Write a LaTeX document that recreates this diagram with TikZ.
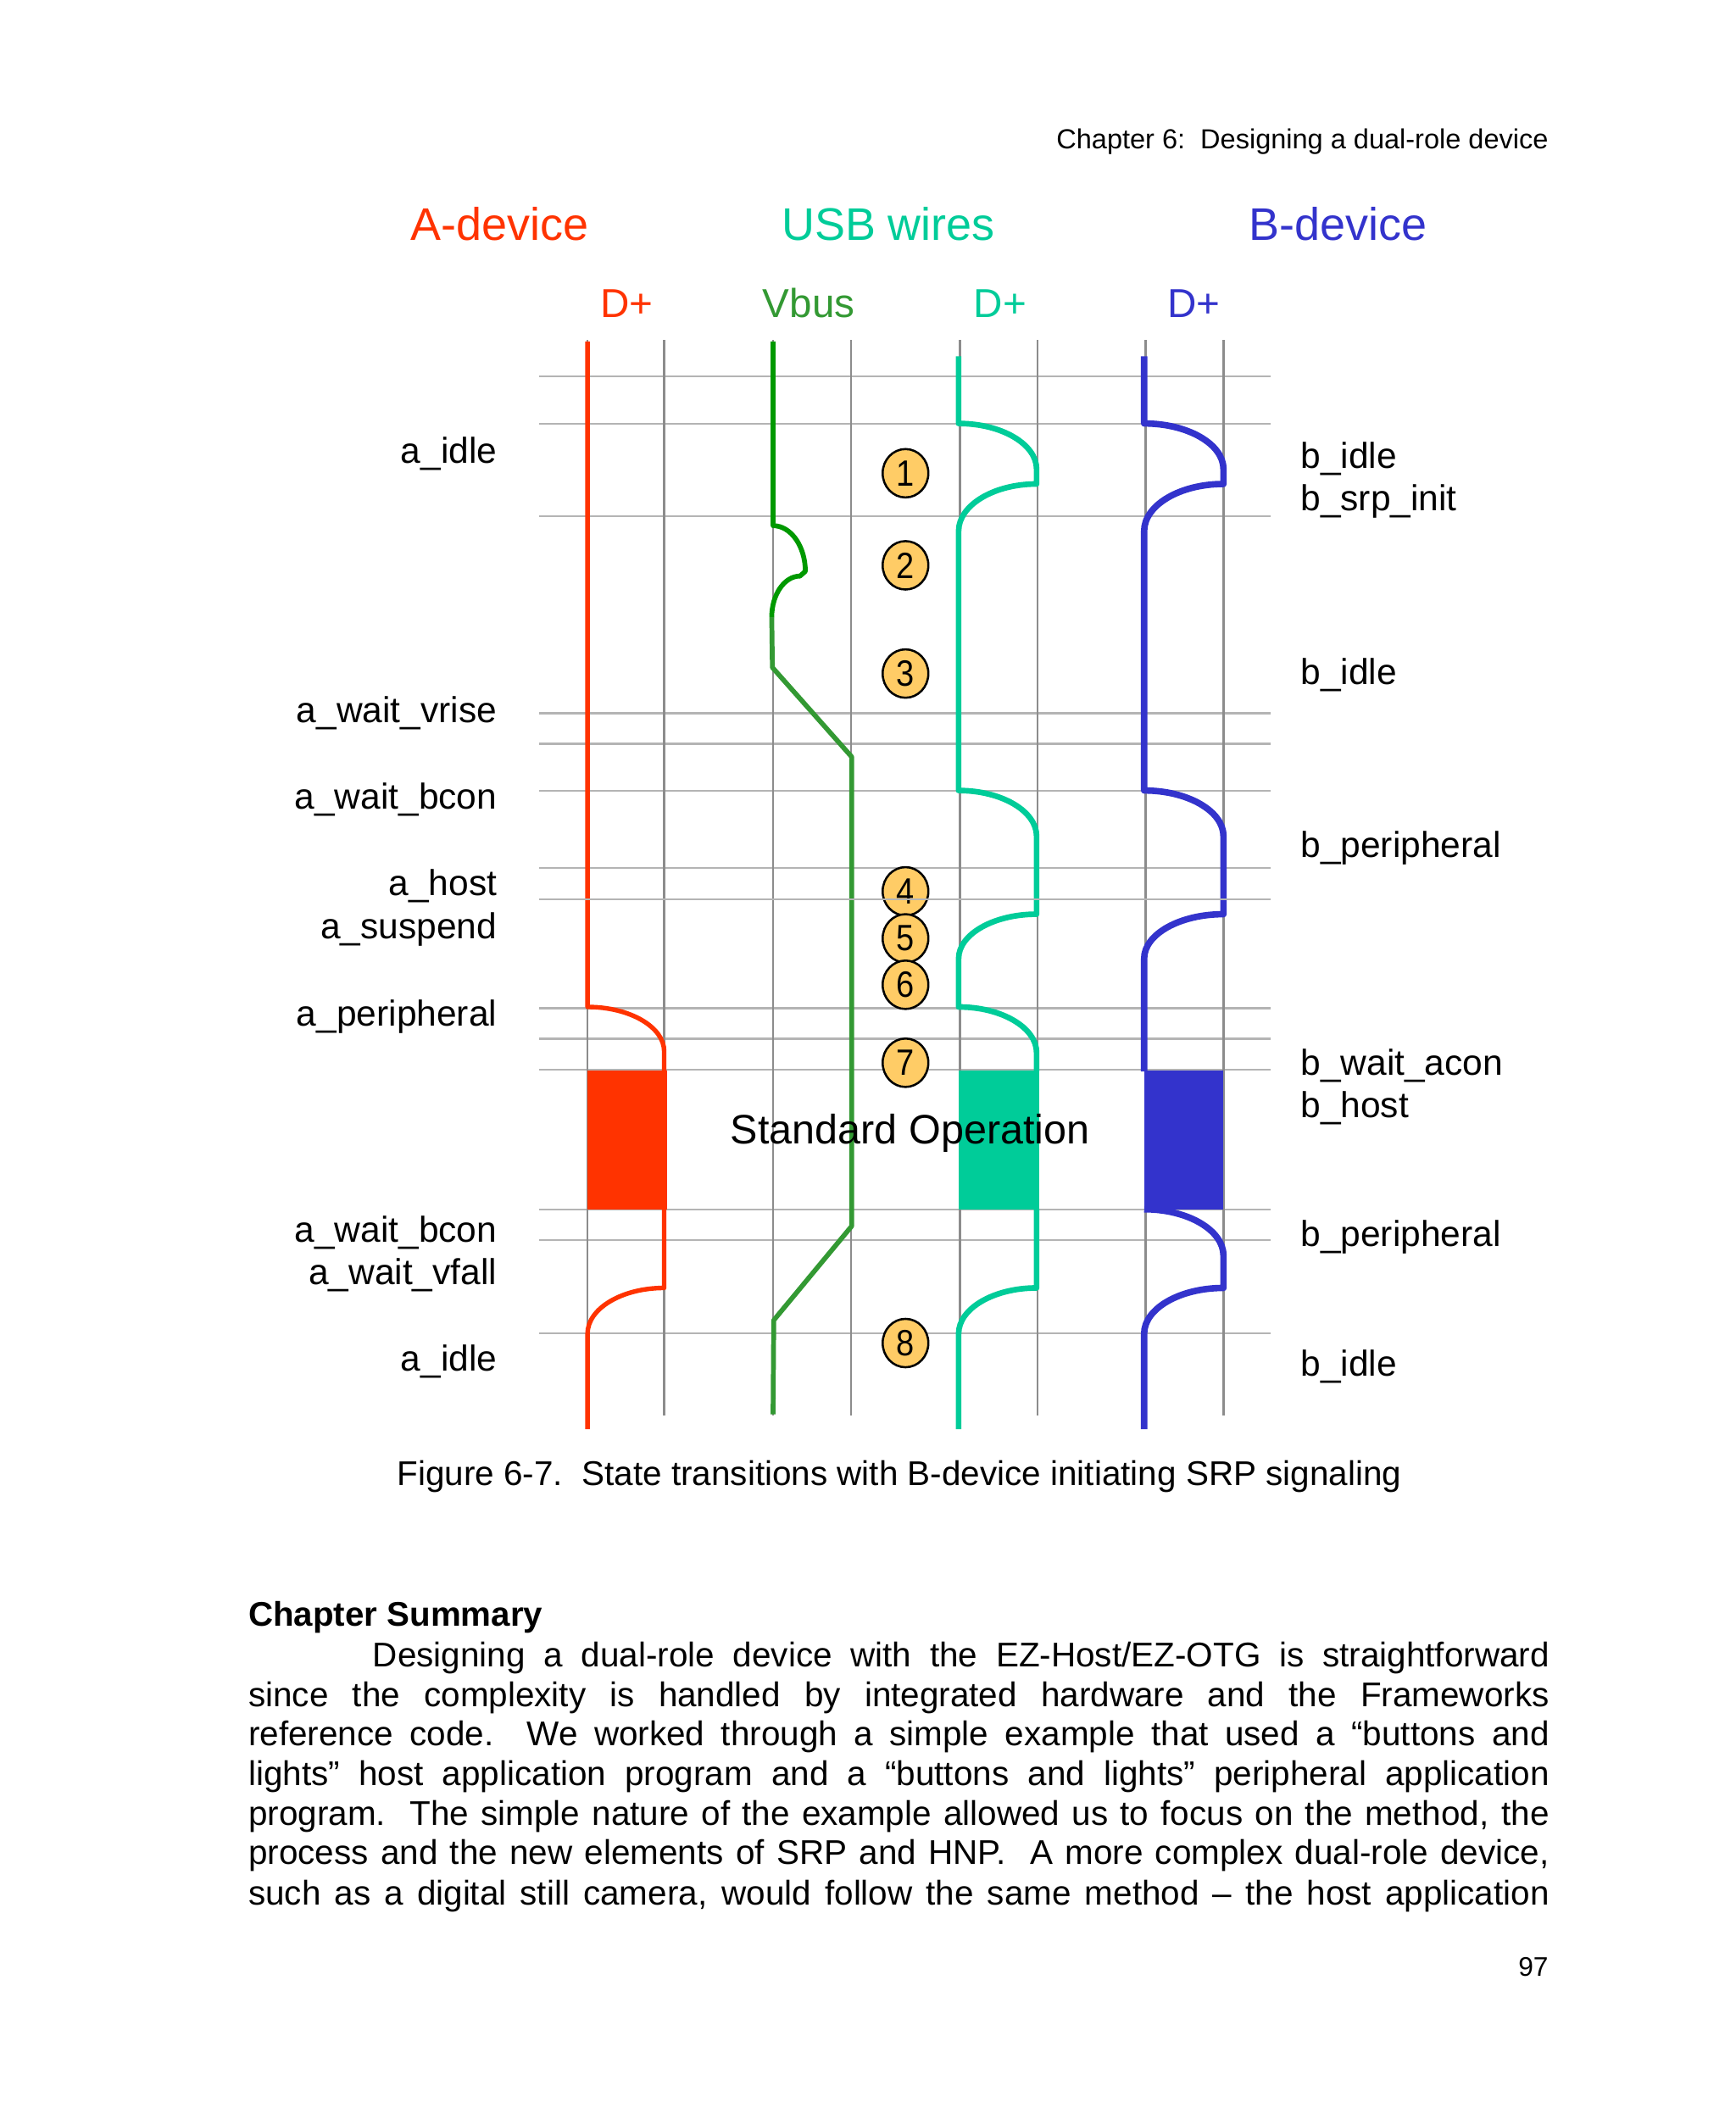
\documentclass[tikz,border=0pt]{standalone}
\usepackage{fontspec}
\setmainfont{Liberation Sans}
\usetikzlibrary{shapes.geometric}
\definecolor{ared}{HTML}{FF3300}
\definecolor{uteal}{HTML}{00CC99}
\definecolor{bblue}{HTML}{3333CC}
\definecolor{vgreen}{HTML}{009900}
\definecolor{vgreenl}{HTML}{339933}
\definecolor{gridv}{HTML}{8C8C8C}
\definecolor{gridh}{HTML}{B4B4B4}
\definecolor{numfill}{HTML}{FFCC66}
\newcommand\setfs[1]{\fontsize{#1}{#1}\selectfont}
\newcommand\numtxt[1]{\scalebox{0.88}[1]{#1}}
\begin{document}
\begin{tikzpicture}[x=0.5pt,y=-0.5pt,
  hline/.style={gridh,line width=0.7pt},
  vline/.style={gridv,line width=0.75pt},
  sigline/.style={line join=round},
  lbl/.style={anchor=base east,inner sep=0pt,font=\setfs{13.4pt}},
  rlbl/.style={anchor=base west,inner sep=0pt,font=\setfs{13.4pt}},
  ttl/.style={anchor=base west,inner sep=0pt,font=\setfs{17pt}},
  sub/.style={anchor=base west,inner sep=0pt,font=\setfs{15pt}},
  numc/.style={ellipse,draw=black,line width=0.8pt,fill=numfill,minimum width=17pt,minimum height=18pt,inner sep=0pt,font=\setfs{13.6pt}},
  body/.style={anchor=base west,inner sep=0pt,font=\setfs{12.75pt}}
]
\useasboundingbox (0,0) rectangle (1291.2,1568);
\fill[white] (0,0) rectangle (1291.2,1568);

% grid
\foreach \y in {280,315,384,530.6,553.2,588,645.8,750,772.6,795.6,899.5,922.6,991.6}
  \draw[hline] (401,\y) -- (945,\y);
\foreach \x in {437,494,575,633,714,771.5,852,910}
  \draw[vline] (\x,253) -- (\x,1053);

% A-device D+
\draw[sigline,ared,line width=1.7pt] (437,254) -- (437,749)
  .. controls (468.4,749) and (494,763.9) .. (494,782) -- (494,797);
\fill[ared] (437,796) rectangle (496,899.5);
\draw[sigline,ared,line width=1.7pt] (494,899) -- (494,958)
  .. controls (462.6,958) and (437,973.3) .. (437,992) -- (437,1063);

% Vbus
\draw[sigline,vgreen,line width=1.8pt] (575,254) -- (575,391)
  .. controls (588.2,391) and (599,406.3) .. (599,425) -- (595,428.5)
  .. controls (583.5,428.5) and (574,442.2) .. (574,459);
\draw[sigline,vgreenl,line width=1.8pt] (574,459) -- (574.5,496.5) -- (633.5,563)
  -- (633.5,912) -- (575.5,982) -- (575,1052);

% USB D+
\draw[sigline,uteal,line width=2.1pt] (713,265) -- (713,315)
  .. controls (744.9,315) and (771,330.3) .. (771,349) -- (771,360)
  .. controls (739.1,360) and (713,375.8) .. (713,395) -- (713,588)
  .. controls (744.9,588) and (771,603.3) .. (771,622) -- (771,680)
  .. controls (739.1,680) and (713,694.9) .. (713,713) -- (713,749)
  .. controls (744.9,749) and (771,764.3) .. (771,783) -- (771,797);
\fill[uteal] (713,796) rectangle (773,899.5);
\draw[sigline,uteal,line width=2.1pt] (771,899) -- (771,958)
  .. controls (739.1,958) and (713,973.3) .. (713,992) -- (713,1063);

% B-device D+
\draw[sigline,bblue,line width=2.4pt] (851,265) -- (851,315)
  .. controls (883.5,315) and (910,330.3) .. (910,349) -- (910,360)
  .. controls (877.5,360) and (851,375.8) .. (851,395) -- (851,588)
  .. controls (883.5,588) and (910,603.3) .. (910,622) -- (910,680)
  .. controls (877.5,680) and (851,694.9) .. (851,713) -- (851,797);
\fill[bblue] (851,796) rectangle (910,899.5);
\draw[sigline,bblue,line width=2.4pt] (851,899.5)
  .. controls (883.5,899.5) and (910,915) .. (910,934) -- (910,958)
  .. controls (877.5,958) and (851,973.3) .. (851,992) -- (851,1063);

% numbered markers
\node[numc] (n1) at (673.5,352) {\numtxt{1}};
\node[numc] (n2) at (673.5,420.5) {\numtxt{2}};
\node[numc] (n3) at (673.5,501) {\numtxt{3}};
\node[numc] (n4) at (673.5,663) {\numtxt{4}};
\node[numc] (n5) at (673.5,698) {\numtxt{5}};
\node[numc] (n6) at (673.5,732.5) {\numtxt{6}};
\node[numc] (n7) at (673.5,790.5) {\numtxt{7}};
\node[numc] (n8) at (673.5,999) {\numtxt{8}};
\draw[hline] (401,668.8) -- (945,668.8);

\node[anchor=base,inner sep=0pt,font=\setfs{15.3pt}] (std) at (677,851) {Standard Operation};

% titles
\node[ttl,text=ared] (tA) at (305,178.5) {A-device};
\node[ttl,text=uteal] (tU) at (581,178.5) {USB wires};
\node[ttl,text=bblue] (tB) at (928.5,178.5) {B-device};
\node[sub,text=ared] (sA) at (446,236.4) {D+};
\node[sub,text=vgreenl] (sV) at (567,236.4) {Vbus};
\node[sub,text=uteal] (sU) at (724,236.4) {D+};
\node[sub,text=bblue] (sB) at (868,236.4) {D+};

% A-device states
\node[lbl] (la1) at (370,344.8) {a\_idle};
\node[lbl] (la2) at (370,537.7) {a\_wait\_vrise};
\node[lbl] (la3) at (370,602) {a\_wait\_bcon};
\node[lbl] (la4) at (370,666) {a\_host};
\node[lbl] (la5) at (370,698.4) {a\_suspend};
\node[lbl] (la6) at (370,763.4) {a\_peripheral};
\node[lbl] (la7) at (370,924) {a\_wait\_bcon};
\node[lbl] (la8) at (370,955.4) {a\_wait\_vfall};
\node[lbl] (la9) at (370,1020) {a\_idle};

% B-device states
\node[rlbl] (lb1) at (967,348.6) {b\_idle};
\node[rlbl] (lb2) at (967,380) {b\_srp\_init};
\node[rlbl] (lb3) at (967,509) {b\_idle};
\node[rlbl] (lb4) at (967,638) {b\_peripheral};
\node[rlbl] (lb5) at (967,799.7) {b\_wait\_acon};
\node[rlbl] (lb6) at (967,831) {b\_host};
\node[rlbl] (lb7) at (967,927) {b\_peripheral};
\node[rlbl] (lb8) at (967,1023.8) {b\_idle};

% page text
\node[anchor=base east,inner sep=0pt,font=\setfs{10.25pt}] (hdr) at (1152,110.5) {Chapter 6:\ \ Designing a dual-role device};
\node[body] (cap) at (295,1105) {Figure 6-7.\ \ State transitions with B-device initiating SRP signaling};
\node[anchor=base west,inner sep=0pt,font=\bfseries\setfs{12.7pt}] (cs) at (184.5,1209.5) {Chapter Summary};
\node[body] (p1) at (277,1239.8) {\makebox[437.5pt][s]{Designing a dual-role device with the EZ-Host/EZ-OTG is straightforward}};
\node[body] (p2) at (184.5,1269.2) {\makebox[483.75pt][s]{since the complexity is handled by integrated hardware and the Frameworks}};
\node[body] (p3) at (184.5,1298.6) {\makebox[483.75pt][s]{reference code.\ \ We worked through a simple example that used a “buttons and}};
\node[body] (p4) at (184.5,1328) {\makebox[483.75pt][s]{lights” host application program and a “buttons and lights” peripheral application}};
\node[body] (p5) at (184.5,1357.5) {\makebox[483.75pt][s]{program.\ \ The simple nature of the example allowed us to focus on the method, the}};
\node[body] (p6) at (184.5,1386.8) {\makebox[483.75pt][s]{process and the new elements of SRP and HNP.\ \ A more complex dual-role device,}};
\node[body] (p7) at (184.5,1416.7) {\makebox[483.75pt][s]{such as a digital still camera, would follow the same method – the host application}};
\node[anchor=base east,inner sep=0pt,font=\setfs{10pt}] (pg) at (1152,1470) {97};
\end{tikzpicture}
\end{document}
